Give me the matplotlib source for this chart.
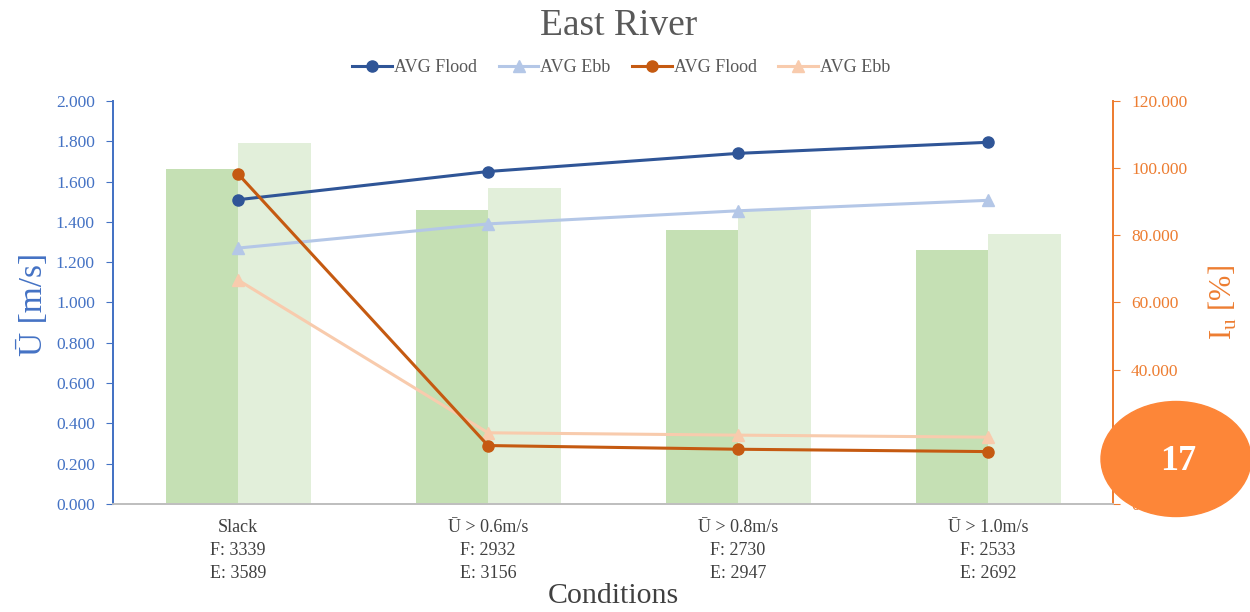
import matplotlib
matplotlib.use("Agg")
import matplotlib.pyplot as plt
from matplotlib.patches import Ellipse
import numpy as np

categories = ["Slack\nF: 3339\nE: 3589",
              "Ū > 0.6m/s\nF: 2932\nE: 3156",
              "Ū > 0.8m/s\nF: 2730\nE: 2947",
              "Ū > 1.0m/s\nF: 2533\nE: 2692"]
bar_flood = [1.66, 1.46, 1.36, 1.26]
bar_ebb = [1.79, 1.57, 1.46, 1.34]
u_flood = [1.51, 1.65, 1.74, 1.795]
u_ebb = [1.27, 1.39, 1.455, 1.507]
i_flood = [98.3, 17.4, 16.3, 15.6]
i_ebb = [66.7, 21.2, 20.5, 19.9]

plt.rcParams['font.family'] = ['Liberation Serif', 'DejaVu Serif']

fig = plt.figure(figsize=(12.5, 6.12), dpi=100)
ax = fig.add_axes([0.0904, 0.1765, 0.8, 0.6585])
ax2 = ax.twinx()

x = np.arange(len(categories))
w = 0.29
ax.bar(x - w/2, bar_flood, width=w, color='#C5E0B4', zorder=1)
ax.bar(x + w/2, bar_ebb, width=w, color='#E2EFDA', zorder=1)

l1, = ax.plot(x, u_flood, color='#2F5597', marker='o', markersize=8, lw=2.2, label='AVG Flood', zorder=3)
l2, = ax.plot(x, u_ebb, color='#B4C7E7', marker='^', markersize=8, lw=2.2, label='AVG Ebb', zorder=3)
l3, = ax2.plot(x, i_flood, color='#C55A11', marker='o', markersize=8, lw=2.2, label='AVG Flood', zorder=3)
l4, = ax2.plot(x, i_ebb, color='#F8CBAD', marker='^', markersize=8, lw=2.2, label='AVG Ebb', zorder=2)

ax.set_xlim(-0.5, 3.5)
ax.set_ylim(0, 2.0)
ax2.set_ylim(0, 120)
ax.set_yticks(np.arange(0, 2.01, 0.2))
ax.set_yticklabels([f"{v:.3f}" for v in np.arange(0, 2.01, 0.2)])
ax2.set_yticks(np.arange(0, 121, 20))
ax2.set_yticklabels([f"{v:.3f}" for v in np.arange(0, 121, 20)])

ax.set_xticks(x)
ax.set_xticklabels(categories, fontsize=13, color='#404040', linespacing=1.45)
ax.tick_params(axis='x', length=0, pad=11)

blue = '#4472C4'
orange = '#ED7D31'
ax.tick_params(axis='y', colors=blue, labelsize=12.5, length=5, direction='out', pad=8)
ax2.tick_params(axis='y', colors=orange, labelsize=12.5, length=5, direction='out', pad=8)
for a in (ax, ax2):
    a.spines['top'].set_visible(False)
    a.spines['left'].set_color(blue)
    a.spines['right'].set_color(orange)
    a.spines['bottom'].set_color('#BFBFBF')
    a.spines['left'].set_linewidth(1.3)
    a.spines['right'].set_linewidth(1.3)
    a.spines['bottom'].set_linewidth(1.3)

ax.set_ylabel('Ū [m/s]', color=blue, fontsize=24)
ax.yaxis.set_label_coords(-0.064, 0.494)
ax2.set_ylabel('I$_\\mathregular{u}$ [%]', color=orange, fontsize=22, rotation=90)
ax2.yaxis.set_label_coords(1.094, 0.50)
ax.set_xlabel('Conditions', color='#404040', fontsize=21.5)
ax.xaxis.set_label_coords(0.5, -0.197)

fig.text(0.495, 0.958, 'East River', ha='center', va='center', fontsize=27, color='#595959')

fig.legend(handles=[l1, l2, l3, l4], loc='center', bbox_to_anchor=(0.497, 0.889),
           ncol=4, frameon=False, fontsize=13, handlelength=2.2, columnspacing=1.2,
           handletextpad=0.1, labelcolor='#595959')

ell = Ellipse((1176/1250, 1 - 459/612), 150/1250, 115/612, transform=fig.transFigure,
              color='#FD8638', zorder=10)
fig.add_artist(ell)
fig.text(1178/1250, 1 - 462/612, '17', ha='center', va='center', fontsize=26,
         color='white', fontweight='bold', zorder=11)

fig.savefig('out.png', dpi=100)
